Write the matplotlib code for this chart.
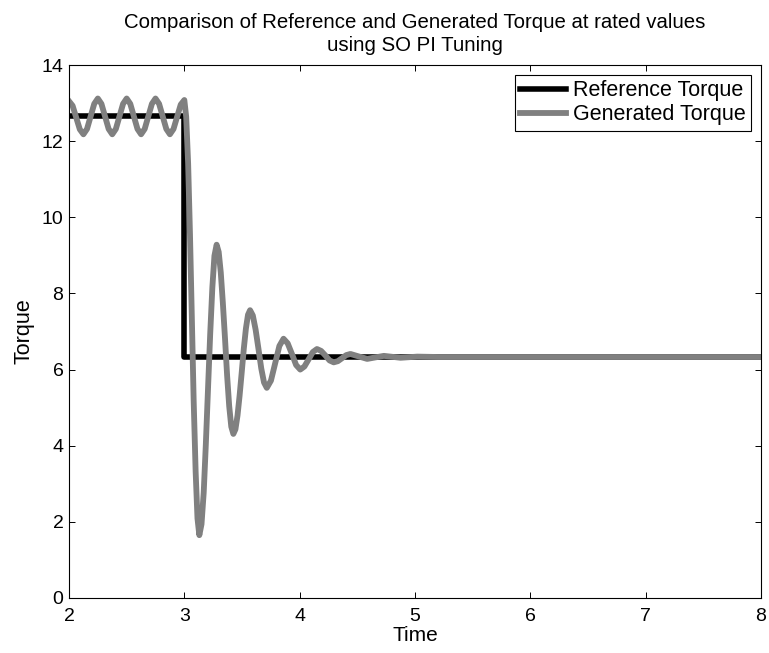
import matplotlib
matplotlib.use("Agg")
import matplotlib.pyplot as plt

plt.rcParams['font.family'] = ['Liberation Sans', 'DejaVu Sans']

# Reference torque (step)
ref_time = [2.0, 3.0, 3.0, 8.0]
ref_torque = [12.65, 12.65, 6.33, 6.33]

# Generated torque
gen_time = [
    2.0, 2.03125, 2.0625, 2.09375, 2.125, 2.15625, 2.1875, 2.21875,
    2.25, 2.28125, 2.3125, 2.34375, 2.375, 2.40625, 2.4375, 2.46875,
    2.5, 2.53125, 2.5625, 2.59375, 2.625, 2.65625, 2.6875, 2.71875,
    2.75, 2.78125, 2.8125, 2.84375, 2.875, 2.90625, 2.9375, 2.96875,
    3.0, 3.016, 3.033, 3.049, 3.065, 3.081, 3.098, 3.114,
    3.13, 3.149, 3.168, 3.186, 3.205, 3.224, 3.243, 3.261,
    3.28, 3.298, 3.316, 3.334, 3.353, 3.371, 3.389, 3.407,
    3.425, 3.443, 3.461, 3.479, 3.498, 3.516, 3.534, 3.552,
    3.57, 3.594, 3.618, 3.643, 3.667, 3.691,
    3.715, 3.751, 3.788, 3.824,
    3.86, 3.896, 3.933, 3.969,
    4.005, 4.041, 4.078, 4.114,
    4.15, 4.186, 4.223, 4.259,
    4.295, 4.331, 4.368, 4.404,
    4.44, 4.5125, 4.585, 4.6575, 4.73, 4.8025, 4.875, 5.02, 5.2, 8.0,
]
gen_torque = [
    13.05, 12.93, 12.62, 12.31, 12.18, 12.32, 12.65, 12.98,
    13.12, 12.98, 12.65, 12.32, 12.18, 12.32, 12.65, 12.98,
    13.12, 12.98, 12.65, 12.32, 12.18, 12.32, 12.65, 12.98,
    13.12, 12.98, 12.65, 12.32, 12.18, 12.32, 12.64, 12.96,
    13.08, 12.64, 11.41, 9.55, 7.37, 5.18, 3.32, 2.09,
    1.65, 1.94, 2.77, 4.01, 5.47, 6.92, 8.16, 8.99,
    9.28, 9.09, 8.55, 7.75, 6.80, 5.84, 5.04, 4.50,
    4.31, 4.43, 4.79, 5.31, 5.94, 6.56, 7.08, 7.44,
    7.56, 7.42, 7.05, 6.54, 6.03, 5.66,
    5.52, 5.71, 6.17, 6.62,
    6.81, 6.69, 6.41, 6.12,
    6.00, 6.08, 6.27, 6.46,
    6.54, 6.49, 6.37, 6.24,
    6.19, 6.22, 6.30, 6.38,
    6.41, 6.345, 6.28, 6.32, 6.36, 6.335, 6.31, 6.34, 6.33, 6.33,
]

x_ticks = [2, 3, 4, 5, 6, 7, 8]
y_ticks = [0, 2, 4, 6, 8, 10, 12, 14]

fig = plt.figure(figsize=(7.69, 6.53), dpi=100)
ax = fig.add_axes([69/769, 1 - 598/653, (761-69)/769, (598-65)/653])

ax.plot(ref_time, ref_torque, color='black', lw=4.0, label='Reference Torque')
ax.plot(gen_time, gen_torque, color='#808080', lw=4.2, label='Generated Torque')

ax.set_xlim(2, 8)
ax.set_ylim(0, 14)
ax.set_xticks(x_ticks)
ax.set_yticks(y_ticks)
ax.tick_params(direction='in', length=4.5, width=0.7, top=True, right=True,
               labelsize=14)
ax.tick_params(axis='x', pad=7)
ax.tick_params(axis='y', pad=4)
for s in ax.spines.values():
    s.set_linewidth(0.8)

ax.set_xlabel('Time', fontsize=15, labelpad=1)
ax.set_ylabel('Torque', fontsize=15.5, labelpad=5)
ax.set_title('Comparison of Reference and Generated Torque at rated values\nusing SO PI Tuning',
             fontsize=14.7, pad=10, linespacing=1.25)

leg = ax.legend(loc='upper right', fontsize=15.5, frameon=True, fancybox=False,
                edgecolor='black', framealpha=1, handlelength=2.1,
                handletextpad=0.35, borderpad=0.25, labelspacing=0.15,
                borderaxespad=0.45)
leg.get_frame().set_linewidth(0.8)

fig.savefig('out.png', dpi=100)
